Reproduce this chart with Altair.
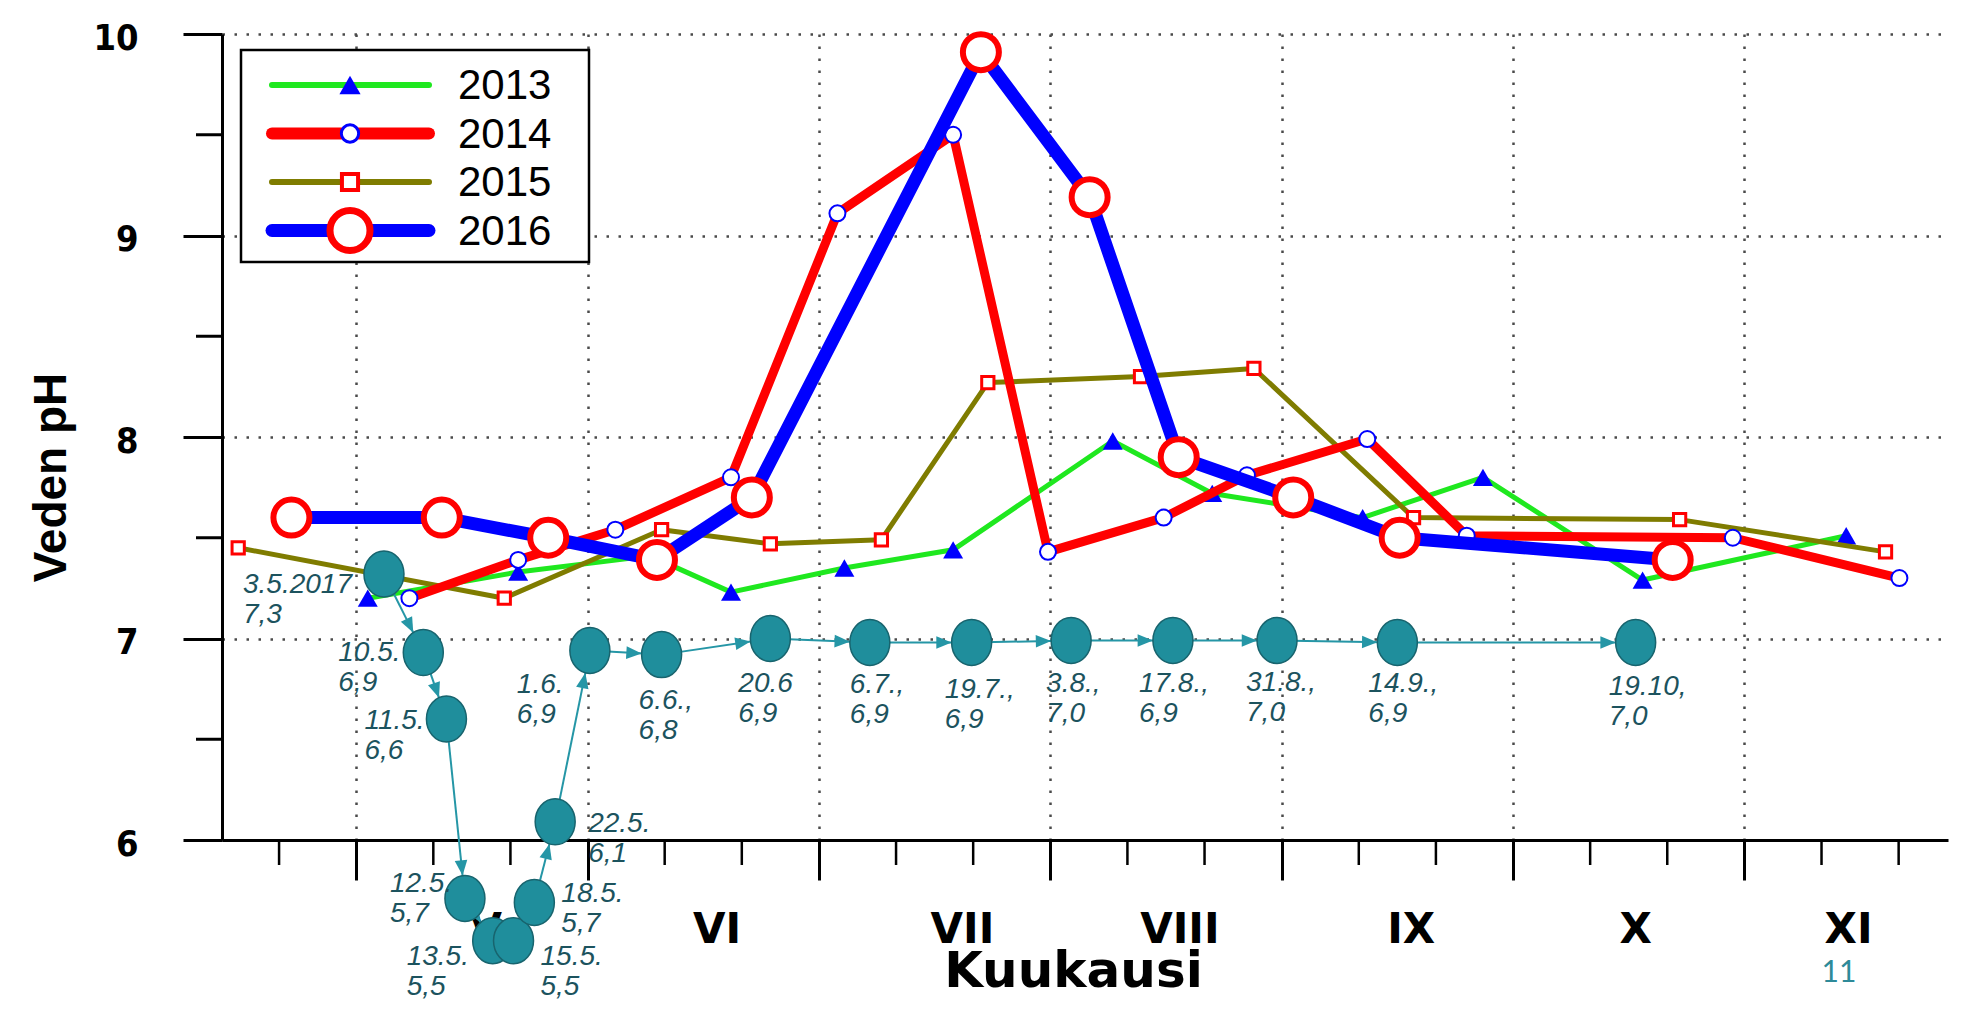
import math
import altair as alt
import pandas as pd

# ---------------- data ----------------
month_names = ["V", "VI", "VII", "VIII", "IX", "X", "XI"]
month_start = [5, 6, 7, 8, 9, 10, 11]
month_label_x = [5.56, 6.56, 7.62, 8.56, 9.56, 10.53, 11.45]

x13 = [5.05, 5.70, 6.27, 6.62, 7.11, 7.58, 8.27, 8.70, 9.35, 9.87, 10.56, 11.44]
y13 = [7.20, 7.33, 7.41, 7.23, 7.35, 7.44, 7.98, 7.72, 7.60, 7.80, 7.29, 7.51]

x14 = [5.23, 5.70, 6.12, 6.62, 7.08, 7.58, 7.99, 8.49, 8.85, 9.37, 9.80, 10.95, 11.67]
y14 = [7.20, 7.39, 7.54, 7.80, 9.11, 9.50, 7.43, 7.60, 7.81, 7.99, 7.51, 7.50, 7.30]

x15 = [4.49, 5.64, 6.32, 6.79, 7.27, 7.73, 8.39, 8.88, 9.57, 10.72, 11.61]
y15 = [7.45, 7.20, 7.54, 7.47, 7.49, 8.27, 8.30, 8.34, 7.60, 7.59, 7.43]

x16 = [4.72, 5.37, 5.83, 6.30, 6.71, 7.70, 8.17, 8.555, 9.05, 9.51, 10.69]
y16 = [7.60, 7.60, 7.50, 7.39, 7.70, 9.91, 9.19, 7.90, 7.70, 7.50, 7.39]

dates17 = ["3.5.2017", "10.5.", "11.5.", "12.5.", "13.5.", "15.5.", "18.5.", "22.5.",
           "1.6.", "6.6.,", "20.6", "6.7.,", "19.7.,", "3.8.,", "17.8.,", "31.8.,",
           "14.9.,", "19.10,"]
vals17 = ["7,3", "6,9", "6,6", "5,7", "5,5", "5,5", "5,7", "6,1", "6,9", "6,8",
          "6,9", "6,9", "6,9", "7,0", "6,9", "7,0", "6,9", "7,0"]
x17 = [5.12, 5.29, 5.39, 5.47, 5.59, 5.68, 5.77, 5.86, 6.01, 6.32, 6.79, 7.22,
       7.66, 8.09, 8.53, 8.98, 9.50, 10.53]
y17 = [7.32, 6.93, 6.60, 5.71, 5.50, 5.50, 5.69, 6.09, 6.94, 6.92, 7.00, 6.98,
       6.98, 6.99, 6.99, 6.99, 6.98, 6.98]

years = ["2013", "2014", "2015", "2016"]
y_ticks = [6, 7, 8, 9, 10]
y_minor = [6.5, 7.5, 8.5, 9.5]
x_minor = [4 + k / 3 for k in range(2, 24) if k % 3 != 0]

# ---------------- layout / style ----------------
X0, X1 = 4.42, 11.88
Y0, Y1 = 6.0, 10.0
W, H = 1726, 806
PXX = W / (X1 - X0)
PXY = H / (Y1 - Y0)


def px2x(p):
    return X0 + p / PXX


def px2y(p):
    return Y1 - p / PXY


# label offsets (pixels) of the 2017 annotations, relative to the ellipse centre
label_dx = [-141, -85, -82, -75, -86, 27, 27, 33, -73, -23, -32, -20, -27, -25, -34, -31, -29, -27]
label_dy = [19, 8, 10, -6, 24, 24, 0, 10, 42, 54, 53, 50, 55, 51, 51, 50, 49, 52]

TEAL = "#1f8e9c"
TEAL_DARK = "#18646e"
TEAL_LINE = "#2596a6"
TEAL_TEXT = "#1c535e"
GRID = "#4a4a4a"
NARROW_BOLD = "DejaVu Sans Condensed, Liberation Sans Narrow, Liberation Sans, sans-serif"

xscale = alt.Scale(domain=[X0, X1], nice=False, zero=False)
yscale = alt.Scale(domain=[Y0, Y1], nice=False, zero=False)

xaxis = alt.Axis(values=month_start, tickSize=40, tickWidth=3, tickColor="black",
                 domainWidth=3, domainColor="black", labels=False,
                 grid=True, gridDash=[2.5, 9.5], gridColor=GRID, gridWidth=2.5,
                 title="Kuukausi", titleFont="DejaVu Sans", titleFontWeight="bold",
                 titleFontSize=50, titleColor="black", titleY=146, titleX=851,
                 titleBaseline="alphabetic", titleAlign="center")
yaxis = alt.Axis(values=y_ticks, tickSize=39, tickWidth=3, tickColor="black",
                 domainWidth=3, domainColor="black",
                 labelFont=NARROW_BOLD, labelFontWeight="bold",
                 labelFontSize=36, labelColor="black", labelPadding=45, labelOffset=4,
                 grid=True, gridDash=[2.5, 9.5], gridColor=GRID, gridWidth=2.5,
                 title="Veden pH", titleFont="Liberation Sans", titleFontWeight="bold",
                 titleFontSize=46, titleColor="black", titleAngle=270, titleX=-157,
                 titleY=443, titleBaseline="alphabetic", titleAlign="center")

X = alt.X("x:Q", scale=xscale, axis=xaxis)
Y = alt.Y("y:Q", scale=yscale, axis=yaxis)

series = [
    dict(year="2013", xs=x13, ys=y13, color="#1fe81f", width=5, lw=6,
         shape="triangle-up", size=400, lsize=450, fill="#0000ff", stroke="#0000ff", sw=0),
    dict(year="2015", xs=x15, ys=y15, color="#7f7c00", width=5, lw=6,
         shape="square", size=150, lsize=260, fill="white", stroke="#ff0000", sw=3),
    dict(year="2014", xs=x14, ys=y14, color="#ff0000", width=9, lw=12,
         shape="circle", size=256, lsize=300, fill="white", stroke="#0000ff", sw=2),
    dict(year="2016", xs=x16, ys=y16, color="#0000ff", width=13, lw=13,
         shape="circle", size=1296, lsize=1600, fill="white", stroke="#ff0000", sw=6),
]

layers = []
for s in series:
    df = pd.DataFrame({"x": s["xs"], "y": s["ys"]})
    base = alt.Chart(df)
    layers.append(base.mark_line(color=s["color"], strokeWidth=s["width"],
                                 strokeCap="round", strokeJoin="round").encode(x=X, y=Y))
    layers.append(base.mark_point(shape=s["shape"], size=s["size"], filled=True,
                                  fill=s["fill"], stroke=s["stroke"], strokeWidth=s["sw"],
                                  opacity=1).encode(x=X, y=Y))

# ---------------- minor ticks & month labels (under the 2017 markers) ----------------
layers.append(alt.Chart(pd.DataFrame({"y": y_minor})).mark_rule(
    color="black", strokeWidth=3).encode(y=Y, x=alt.value(-26), x2=alt.value(0)))
layers.append(alt.Chart(pd.DataFrame({"x": x_minor})).mark_rule(
    color="black", strokeWidth=2.5).encode(x=X, y=alt.value(H), y2=alt.value(H + 25)))
mon = pd.DataFrame({"x": month_label_x, "y": [Y0] * 7, "t": month_names})
layers.append(alt.Chart(mon).mark_text(
    font="DejaVu Sans", fontWeight="bold", fontSize=42, color="black",
    align="center", baseline="alphabetic", dy=103).encode(x=X, y=Y, text="t:N"))

# ---------------- 2017 sequence ----------------
seg = pd.DataFrame({"x": x17[:-1], "y": y17[:-1], "x2": x17[1:], "y2": y17[1:]})
layers.append(alt.Chart(seg).mark_rule(color=TEAL_LINE, strokeWidth=2).encode(
    x=X, y=Y, x2="x2:Q", y2="y2:Q"))

ERX, ERY = 20, 23
heads = []
for i in range(1, len(x17)):
    sx, sy = (x17[i - 1] - X0) * PXX, (Y1 - y17[i - 1]) * PXY
    tx, ty = (x17[i] - X0) * PXX, (Y1 - y17[i]) * PXY
    ddx, ddy = tx - sx, ty - sy
    L = math.hypot(ddx, ddy)
    ux, uy = ddx / L, ddy / L
    r = ERX * ERY / math.sqrt((ERY * ux) ** 2 + (ERX * uy) ** 2)
    hx, hy = tx - r * ux, ty - r * uy
    ang = math.degrees(math.atan2(ux, -uy)) % 360
    heads.append({"x": px2x(hx), "y": px2y(hy), "ang": ang})
heads = pd.DataFrame(heads)
layers.append(alt.Chart(heads).mark_point(
    shape="M0,0L0.7,1.7L-0.7,1.7Z", size=324, filled=True, fill=TEAL_LINE,
    strokeWidth=0, opacity=1).encode(x=X, y=Y, angle=alt.Angle("ang:Q", scale=None)))

ell = pd.DataFrame({"x": x17, "y": y17})
layers.append(alt.Chart(ell).mark_point(
    shape="M0,-1.15A1,1.15,0,1,1,0,1.15A1,1.15,0,1,1,0,-1.15Z", size=1600,
    filled=True, fill=TEAL, stroke=TEAL_DARK, strokeWidth=1.5, opacity=1
).encode(x=X, y=Y))

lab = pd.DataFrame({
    "x": [x + dx / PXX for x, dx in zip(x17, label_dx)],
    "y": [y - dy / PXY for y, dy in zip(y17, label_dy)],
    "d": dates17, "v": vals17})
lab_style = dict(font="Liberation Sans", fontStyle="italic", fontSize=28,
                 color=TEAL_TEXT, align="left", baseline="alphabetic")
layers.append(alt.Chart(lab).mark_text(**lab_style).encode(x=X, y=Y, text="d:N"))
layers.append(alt.Chart(lab).mark_text(dy=30, **lab_style).encode(x=X, y=Y, text="v:N"))

# ---------------- legend ----------------
box = pd.DataFrame({"x": [px2x(19)], "x2": [px2x(367)], "y": [px2y(16)], "y2": [px2y(228)]})
layers.append(alt.Chart(box).mark_rect(fill="white", stroke="black", strokeWidth=2.5).encode(
    x=X, x2="x2:Q", y=Y, y2="y2:Q"))
order = {"2013": 0, "2014": 1, "2015": 2, "2016": 3}
for s in series:
    ry = 51 + order[s["year"]] * 48.5
    ld = pd.DataFrame({"x": [px2x(50)], "x2": [px2x(207)], "y": [px2y(ry)]})
    layers.append(alt.Chart(ld).mark_rule(color=s["color"], strokeWidth=s["lw"],
                                          strokeCap="round").encode(x=X, x2="x2:Q", y=Y))
    md = pd.DataFrame({"x": [px2x(128)], "y": [px2y(ry)]})
    layers.append(alt.Chart(md).mark_point(shape=s["shape"], size=s["lsize"], filled=True,
                                           fill=s["fill"], stroke=s["stroke"],
                                           strokeWidth=s["sw"] + (1 if s["sw"] else 0),
                                           opacity=1).encode(x=X, y=Y))
    td = pd.DataFrame({"x": [px2x(236)], "y": [px2y(ry)], "t": [s["year"]]})
    layers.append(alt.Chart(td).mark_text(font="Liberation Sans", fontSize=42, color="black",
                                          align="left", baseline="alphabetic", dy=14
                                          ).encode(x=X, y=Y, text="t:N"))

# slide number
layers.append(alt.Chart(pd.DataFrame({"t": ["11"]})).mark_text(
    font="Lato", fontSize=30, color="#2e8a99", align="center", baseline="alphabetic"
).encode(text="t:N", x=alt.value(1617), y=alt.value(948)))

chart = alt.layer(*layers).properties(
    width=W, height=H,
    autosize=alt.AutoSizeParams(type="none"),
    padding={"left": 214, "top": 26, "right": 10, "bottom": 160},
    background="white",
).configure_view(stroke=None)

chart.save("out.html", embed_options={"renderer": "svg", "actions": False})
